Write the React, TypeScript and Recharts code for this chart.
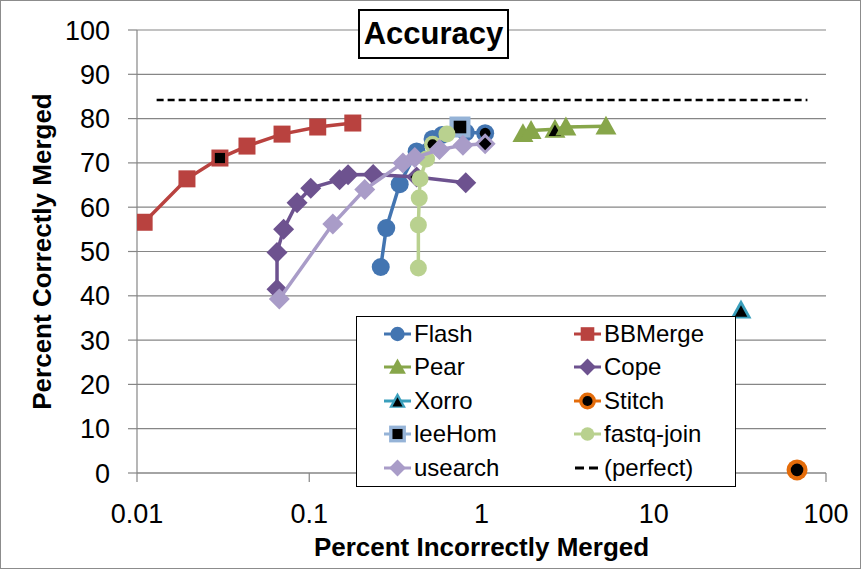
import React from 'react';
import { ScatterChart, Scatter, XAxis, YAxis, CartesianGrid, Legend, Label } from 'recharts';

const FONT = '"Liberation Sans", Arial, sans-serif';
const GRID = '#868686';

const xTicks = [0.01, 0.1, 1, 10, 100];
const yTicks = [0, 10, 20, 30, 40, 50, 60, 70, 80, 90, 100];

// [percent incorrectly merged, percent correctly merged]
const flash = [[0.26, 46.5], [0.28, 55.3], [0.335, 65.2], [0.42, 72.6], [0.52, 75.4], [0.59, 76.3], [0.81, 76.9], [1.05, 76.7]];
const bbmerge = [[0.011, 56.6], [0.0195, 66.4], [0.0303, 71.1], [0.0435, 73.8], [0.0695, 76.5], [0.112, 78.1], [0.179, 79.0]];
const pear = [[1.74, 76.6], [1.94, 77.3], [2.67, 77.6], [3.09, 78.1], [5.28, 78.3]];
const cope = [[0.065, 41.5], [0.065, 49.8], [0.071, 55.0], [0.085, 61.0], [0.102, 64.3], [0.15, 66.2], [0.168, 67.3], [0.235, 67.4], [0.42, 66.8], [0.81, 65.5]];
const xorro = [[32.1, 36.8]];
const stitch = [[67.9, 0.7]];
const leehom = [[0.75, 78.1]];
const fastqJoin = [[0.43, 46.3], [0.43, 56.0], [0.435, 62.1], [0.44, 66.4], [0.48, 70.9], [0.52, 74.2], [0.63, 76.5]];
const usearch = [[0.067, 39.3], [0.137, 56.2], [0.21, 64.0], [0.35, 70.0], [0.41, 71.2], [0.57, 73.0], [0.78, 74.0], [1.05, 74.3]];
const perfect = [[0.013, 84.2], [78, 84.2]];

// index of the default-settings point (drawn with a black centre)
const flashDefault = 7;
const bbmergeDefault = 2;
const pearDefault = 2;
const copeDefault = 8;
const fastqJoinDefault = 5;
const usearchDefault = 7;

type Kind = 'circle' | 'square' | 'triangle' | 'diamond';

const toPoints = (rows: number[][], def = -1) => rows.map(([x, y], i) => ({ x, y, def: i === def }));

const series = [
  { name: 'Flash', data: toPoints(flash, flashDefault), color: '#4375b1', kind: 'circle' as Kind, size: 18, line: true },
  { name: 'BBMerge', data: toPoints(bbmerge, bbmergeDefault), color: '#b9423f', kind: 'square' as Kind, size: 17, line: true },
  { name: 'Pear', data: toPoints(pear, pearDefault), color: '#87a64a', kind: 'triangle' as Kind, size: 21, line: true },
  { name: 'Cope', data: toPoints(cope, copeDefault), color: '#6d528f', kind: 'diamond' as Kind, size: 21, line: true },
  { name: 'Xorro', data: toPoints(xorro, 0), color: '#3a9fbc', kind: 'triangle' as Kind, size: 21, line: false },
  { name: 'Stitch', data: toPoints(stitch, 0), color: '#e46c0a', kind: 'circle' as Kind, size: 21, line: false },
  { name: 'leeHom', data: toPoints(leehom, 0), color: '#95b3d7', kind: 'square' as Kind, size: 21, line: false },
  { name: 'fastq-join', data: toPoints(fastqJoin, fastqJoinDefault), color: '#b9d18f', kind: 'circle' as Kind, size: 17, line: true },
  { name: 'usearch', data: toPoints(usearch, usearchDefault), color: '#a99cc8', kind: 'diamond' as Kind, size: 21, line: true },
];

const legendInner = ['Xorro', 'Stitch', 'leeHom'];

function shapeOf(kind: Kind, cx: number, cy: number, s: number, fill: string) {
  const h = s / 2;
  switch (kind) {
    case 'circle':
      return <circle cx={cx} cy={cy} r={h} fill={fill} />;
    case 'square':
      return <rect x={cx - h} y={cy - h} width={s} height={s} fill={fill} />;
    case 'triangle':
      return <polygon points={`${cx},${cy - h} ${cx + h},${cy + h * 0.8} ${cx - h},${cy + h * 0.8}`} fill={fill} />;
    default:
      return <polygon points={`${cx},${cy - h} ${cx + h},${cy} ${cx},${cy + h} ${cx - h},${cy}`} fill={fill} />;
  }
}

const Marker = ({ kind, cx, cy, size, color, inner }: any) => (
  <g>
    {shapeOf(kind, cx, cy, size, color)}
    {inner && shapeOf(kind, cx, cy + (kind === 'triangle' ? size * 0.08 : 0), size * 0.6, '#000')}
  </g>
);

const renderLegend = () => {
  const items = [
    ...series.map((s) => ({ ...s, dashed: false })),
    { name: '(perfect)', color: '#000', kind: 'circle' as Kind, size: 0, dashed: true },
  ];
  return (
    <div
      style={{
        width: 380,
        height: 171,
        boxSizing: 'border-box',
        border: '1.5px solid #000',
        background: '#fff',
        display: 'grid',
        gridTemplateColumns: '190px 190px',
        gridAutoRows: '33.5px',
        paddingLeft: 26,
        fontFamily: FONT,
        fontSize: 24,
        color: '#000',
      }}
    >
      {items.map((it) => (
        <div key={it.name} style={{ display: 'flex', alignItems: 'center' }}>
          <svg width={30} height={20} style={{ flex: 'none' }}>
            {it.dashed ? (
              <line x1={2} x2={28} y1={10} y2={10} stroke="#000" strokeWidth={3} strokeDasharray="9 5" />
            ) : (
              <>
                <line x1={1} x2={28} y1={10} y2={10} stroke={it.color} strokeWidth={3} />
                <Marker kind={it.kind} cx={14.5} cy={10} size={it.size * 0.8} color={it.color} inner={legendInner.includes(it.name)} />
              </>
            )}
          </svg>
          <span style={{ marginLeft: 1 }}>{it.name}</span>
        </div>
      ))}
    </div>
  );
};

const App = () => (
  <div style={{ position: 'absolute', left: 0, top: 0, width: 861, height: 569, fontFamily: FONT, background: '#fff' }}>
    <ScatterChart width={861} height={569} margin={{ top: 30, right: 35, bottom: 0, left: 0 }}>
      <CartesianGrid vertical={false} stroke={GRID} strokeWidth={1.2} />
      <XAxis
        type="number"
        dataKey="x"
        scale="log"
        domain={[0.01, 100]}
        ticks={xTicks}
        allowDataOverflow
        height={96}
        tickSize={9}
        tickMargin={22}
        tickFormatter={(v) => String(v)}
        axisLine={{ stroke: GRID, strokeWidth: 1.2 }}
        tickLine={{ stroke: GRID, strokeWidth: 1.2 }}
        tick={{ fontSize: 27, fill: '#000', fontFamily: FONT }}
      >
        <Label
          value="Percent Incorrectly Merged"
          position="insideBottom"
          offset={13}
          style={{ textAnchor: 'middle', fontSize: 26, fontWeight: 'bold', fill: '#000', fontFamily: FONT }}
        />
      </XAxis>
      <YAxis
        type="number"
        dataKey="y"
        domain={[0, 100]}
        ticks={yTicks}
        width={137}
        tickSize={9}
        tickMargin={18}
        axisLine={{ stroke: GRID, strokeWidth: 1.2 }}
        tickLine={{ stroke: GRID, strokeWidth: 1.2 }}
        tick={{ fontSize: 27, fill: '#000', fontFamily: FONT }}
      >
        <Label
          value="Percent Correctly Merged"
          angle={-90}
          position="insideLeft"
          offset={42}
          style={{ textAnchor: 'middle', fontSize: 26, fontWeight: 'bold', fill: '#000', fontFamily: FONT }}
        />
      </YAxis>
      <Legend content={renderLegend} layout="vertical" align="center" verticalAlign="middle" wrapperStyle={{ left: 356, top: 316, width: 380, height: 171 }} />
      <Scatter
        name="(perfect)"
        data={toPoints(perfect)}
        line={{ stroke: '#000', strokeWidth: 2.5, strokeDasharray: '7 4' }}
        shape={() => <g />}
        isAnimationActive={false}
      />
      {series.map((s) => (
        <Scatter
          key={s.name}
          name={s.name}
          data={s.data}
          line={s.line ? { stroke: s.color, strokeWidth: 3.5 } : false}
          shape={(p: any) => <Marker kind={s.kind} cx={p.cx} cy={p.cy} size={s.size} color={s.color} inner={p.payload && p.payload.def} />}
          isAnimationActive={false}
        />
      ))}
    </ScatterChart>
    <div
      style={{
        position: 'absolute',
        left: 358,
        top: 9,
        width: 151,
        height: 50,
        boxSizing: 'border-box',
        border: '2px solid #000',
        background: '#fff',
        fontWeight: 'bold',
        fontSize: 31,
        lineHeight: '46px',
        textAlign: 'center',
      }}
    >
      Accuracy
    </div>
    <div style={{ position: 'absolute', inset: 0, border: '1.5px solid #8c8c8c', pointerEvents: 'none' }} />
  </div>
);

export default App;
